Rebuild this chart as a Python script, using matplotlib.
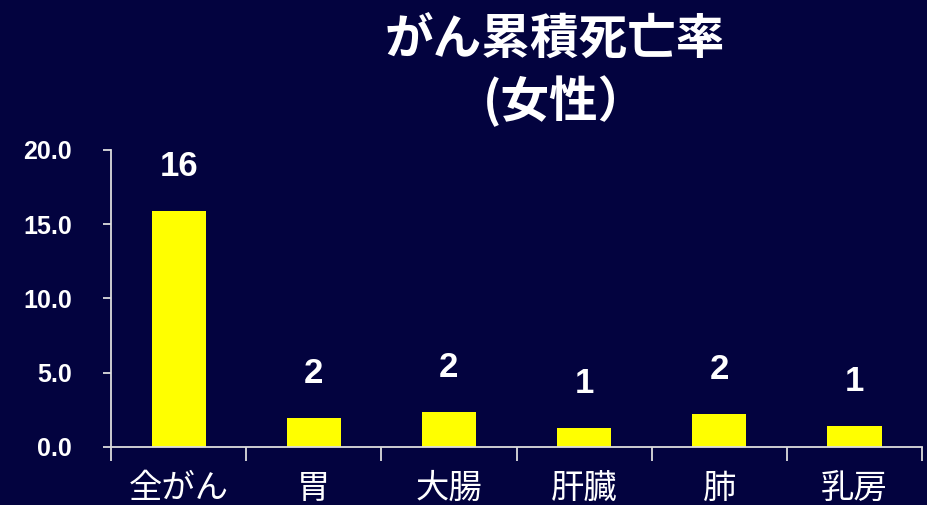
import numpy as np
import matplotlib.pyplot as plt

plt.rcParams['font.family'] = ['Liberation Sans', 'Noto Sans CJK JP', 'DejaVu Sans']

categories = ['全がん', '胃', '大腸', '肝臓', '肺', '乳房']
rates = [15.9, 1.95, 2.38, 1.3, 2.22, 1.41]
yticks = [0.0, 5.0, 10.0, 15.0, 20.0]

bg = '#03033f'
fg = 'white'
jp = ['Noto Sans CJK JP', 'DejaVu Sans']

fig = plt.figure(figsize=(9.28, 5.05), dpi=100, facecolor=bg)
ax = fig.add_axes([0.1196, 0.1149, 0.874, 0.5881], facecolor=bg)

x = np.arange(len(categories))
ax.bar(x, rates, width=0.4, color='#ffff00', edgecolor='none', zorder=2)

for xi, v in zip(x, rates):
    ax.annotate(f'{v:.0f}', (xi, v), xytext=(0, 20), textcoords='offset points',
                ha='center', va='bottom', color=fg, fontsize=25, fontweight='bold')

ax.set_xlim(-0.5, len(categories) - 0.5)
ax.set_ylim(0, 20)

# category names sit between the boundary ticks
ax.set_xticks(np.arange(len(categories) + 1) - 0.5)
ax.set_xticklabels([])
ax.set_xticks(x, minor=True)
ax.set_xticklabels(categories, minor=True, family=jp, fontsize=24, color=fg)
ax.tick_params(axis='x', which='major', direction='out', length=10, width=1.3, color='#dddddd')
ax.tick_params(axis='x', which='minor', length=0, pad=17)

ax.set_yticks(yticks)
ax.set_yticklabels([f'{t:.1f}' for t in yticks], fontsize=18, fontweight='bold', color=fg)
ax.tick_params(axis='y', direction='out', length=6, width=1.3, color='#dddddd', pad=22)

for side in ['top', 'right']:
    ax.spines[side].set_visible(False)
for side in ['left', 'bottom']:
    ax.spines[side].set_color('#dddddd')
    ax.spines[side].set_linewidth(1.3)

fig.text(0.598, 0.92, 'がん累積死亡率', family=jp, fontsize=35, fontweight='bold',
         color=fg, ha='center', va='center')
fig.text(0.520, 0.80, '(女性）', family=jp, fontsize=35, fontweight='bold',
         color=fg, ha='left', va='center')

fig.savefig('out.png', dpi=100, facecolor=bg)
